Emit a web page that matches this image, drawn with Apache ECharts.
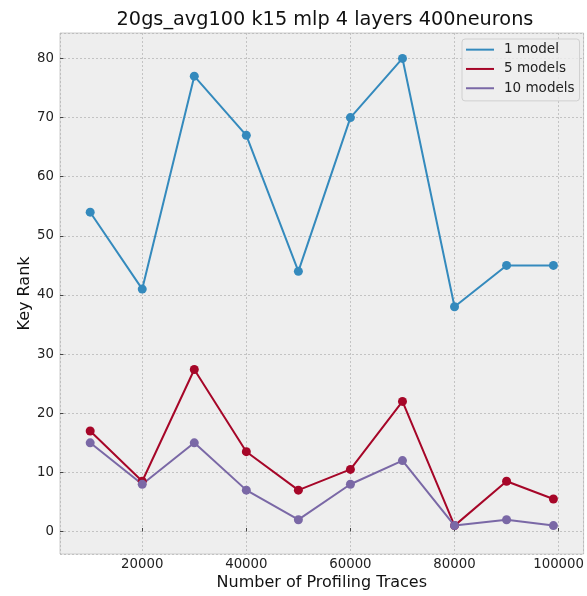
<!DOCTYPE html>
<html>
<head>
<meta charset="utf-8">
<script src="https://cdn.jsdelivr.net/npm/echarts@6/dist/echarts.min.js"></script>
<style>html,body{margin:0;padding:0;background:#fff;}#c{width:587px;height:596px;}</style>
</head>
<body>
<div id="c"></div>
<script>
const traces = [10000, 20000, 30000, 40000, 50000, 60000, 70000, 80000, 90000, 99000];
const oneModel = [54, 41, 77, 67, 44, 70, 80, 38, 45, 45];
const fiveModels = [17, 8.5, 27.4, 13.5, 7, 10.5, 22, 1, 8.5, 5.5];
const tenModels = [15, 8, 15, 7, 2, 8, 12, 1, 2, 1];
const seriesNames = ['1 model', '5 models', '10 models'];
const colors = ['#348ABD', '#A60628', '#7A68A6'];

const font = 'DejaVu Sans';
function mk(name, vals, color) {
  return {
    name: name, type: 'line',
    data: traces.map((x, i) => [x, vals[i]]),
    symbol: 'circle', symbolSize: 9,
    lineStyle: {color: color, width: 2},
    itemStyle: {color: color},
    emphasis: {disabled: true},
    animation: false
  };
}
const chart = echarts.init(document.getElementById('c'));
chart.setOption({
  animation: false,
  title: {text: '20gs_avg100 k15 mlp 4 layers 400neurons', left: 320, textAlign: 'center', top: 5,
    textStyle: {fontFamily: font, fontSize: 19.3, fontWeight: 'normal', color: '#111'}},
  legend: {
    data: seriesNames.map(n => ({name: n, icon: 'rect'})),
    orient: 'vertical', left: 462, top: 39,
    itemWidth: 28, itemHeight: 2, itemGap: 0,
    padding: [1, 5, 3, 4],
    backgroundColor: 'rgba(238,238,238,0.8)', borderColor: '#d0d0d0', borderWidth: 1, borderRadius: 3,
    textStyle: {fontFamily: font, fontSize: 13.5, color: '#222', lineHeight: 19.3, padding: [0, 0, 0, 5]}
  },
  grid: {left: 60, right: 0, top: 33, bottom: 35, show: true, backgroundColor: '#eeeeee',
    borderColor: '#cccccc', borderWidth: 1, containLabel: false},
  xAxis: {
    type: 'value', min: 4200, max: 104800, splitNumber: 5,
    name: 'Number of Profiling Traces', nameLocation: 'middle', nameGap: 21, nameMoveOverlap: false,
    nameTextStyle: {fontFamily: font, fontSize: 16, color: '#111'},
    axisLine: {show: false},
    axisTick: {show: true, inside: true, length: 3.5, lineStyle: {color: '#444'}},
    axisLabel: {fontFamily: font, fontSize: 13.3, color: '#222', margin: 4, showMinLabel: false, showMaxLabel: false,
      formatter: v => String(v)},
    splitLine: {show: true, lineStyle: {color: '#b8b8b8', type: [2, 2], width: 0.8}}
  },
  yAxis: {
    type: 'value', min: -3.8, max: 84.3, splitNumber: 9,
    name: 'Key Rank', nameLocation: 'middle', nameGap: 27, nameMoveOverlap: false,
    nameTextStyle: {fontFamily: font, fontSize: 16, color: '#111'},
    axisLine: {show: false},
    axisTick: {show: true, inside: true, length: 3.5, lineStyle: {color: '#444'}},
    axisLabel: {fontFamily: font, fontSize: 13.3, color: '#222', margin: 6, showMinLabel: false, showMaxLabel: false,
      formatter: v => String(v)},
    splitLine: {show: true, lineStyle: {color: '#b8b8b8', type: [2, 2], width: 0.8}}
  },
  series: [mk(seriesNames[0], oneModel, colors[0]), mk(seriesNames[1], fiveModels, colors[1]), mk(seriesNames[2], tenModels, colors[2])]
});
</script>
</body>
</html>
